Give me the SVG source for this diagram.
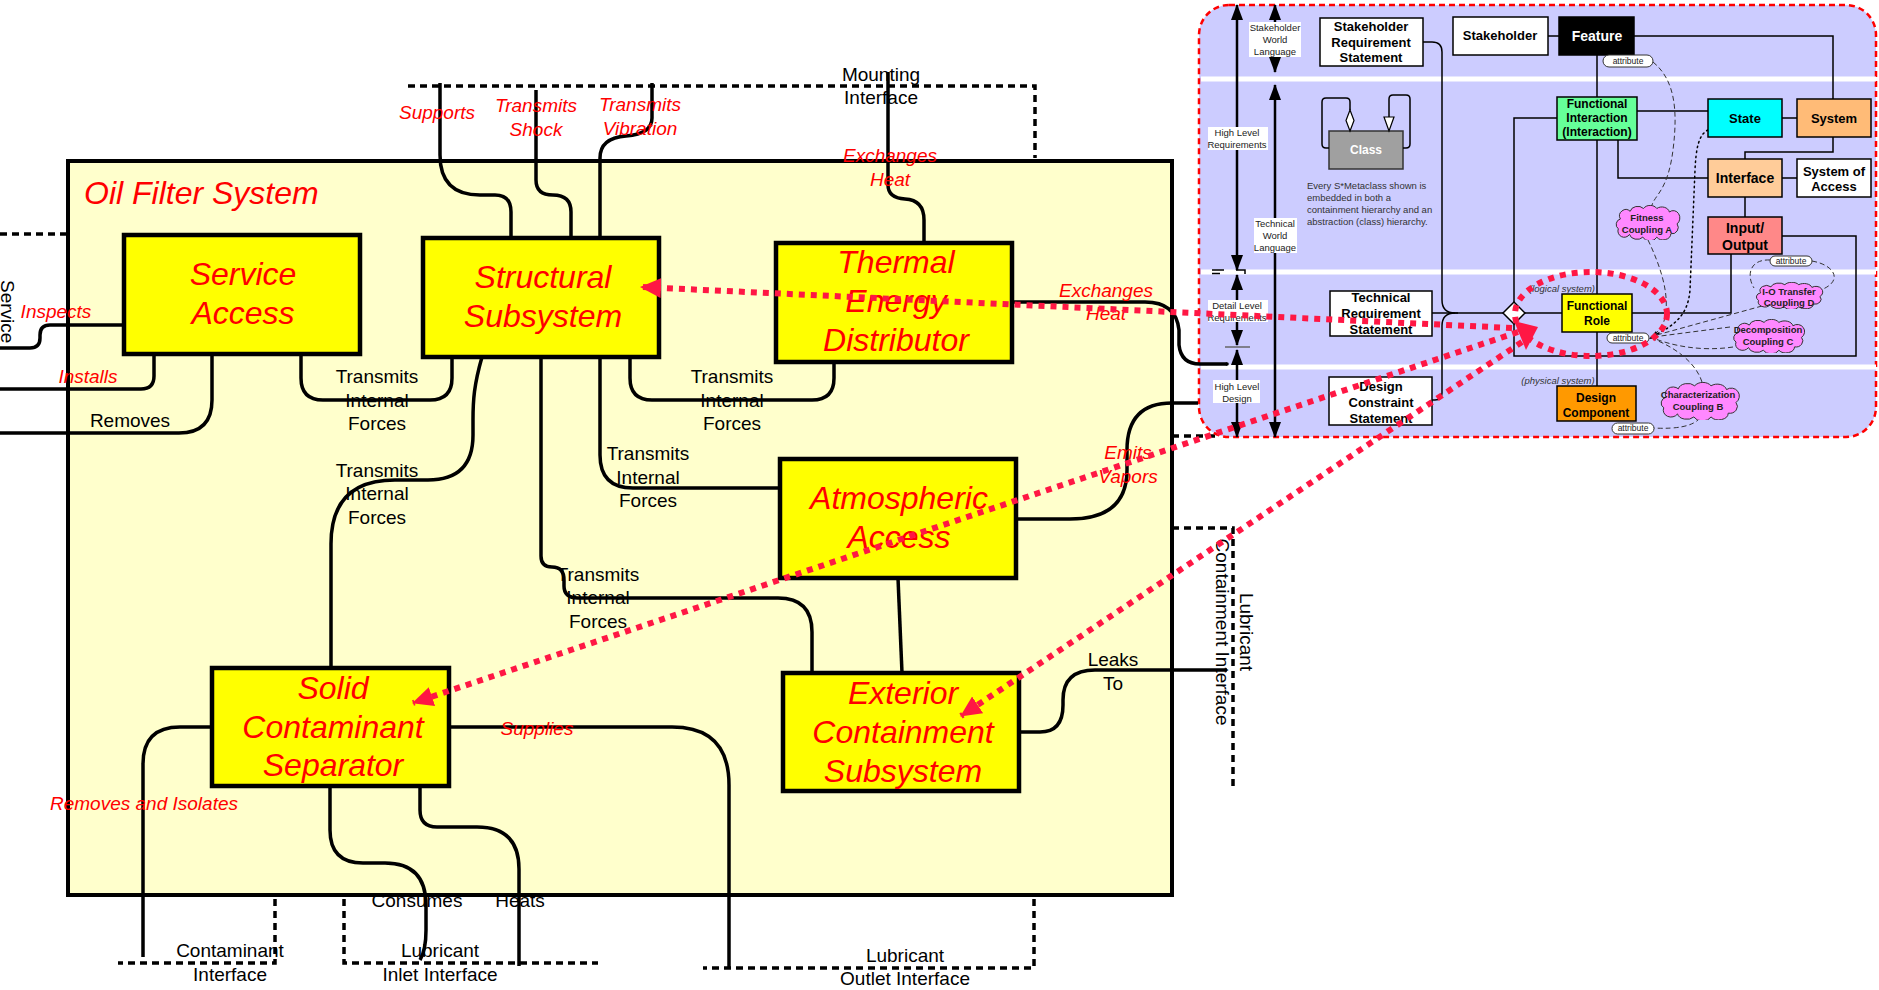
<svg xmlns="http://www.w3.org/2000/svg" width="1879" height="990" viewBox="0 0 1879 990">
<style>
  text { font-family: "Liberation Sans", Arial, sans-serif; }
  .sys { fill: #FFFFCC; stroke: #000; stroke-width: 4; }
  .box { fill: #FFFF00; stroke: #000; stroke-width: 4.5; }
  .blk { font-size: 32px; font-style: italic; fill: #FF0000; text-anchor: middle; }
  .conn { fill: none; stroke: #000; stroke-width: 3.5; }
  .iface { fill: none; stroke: #000; stroke-width: 3.5; stroke-dasharray: 7 5; }
  .rl { font-size: 19px; font-style: italic; fill: #FF0000; text-anchor: middle; }
  .bl { font-size: 19px; fill: #000; text-anchor: middle; }
  .trace { fill: none; stroke: #FF1744; stroke-width: 6; stroke-dasharray: 6 6; }
  .pnl { fill: #CCCCFF; stroke: #FF0000; stroke-width: 2.5; stroke-dasharray: 6 4; }
  .sep { stroke: #FFFFFF; stroke-width: 5; }
  .mc { stroke: #000; stroke-width: 1.5; }
  .mt { font-weight: bold; text-anchor: middle; }
  .ln { fill: none; stroke: #000; stroke-width: 1.5; }
  .va { fill: none; stroke: #000; stroke-width: 2.5; marker-start: url(#bah); marker-end: url(#bah); }
  .vl { font-size: 9.5px; fill: #222; text-anchor: middle; }
  .vbg { fill: #FFFFFF; }
  .att { fill: #FFFFFF; stroke: #333; stroke-width: 1; }
  .at { font-size: 8.5px; fill: #222; text-anchor: middle; }
  .ct { font-size: 9.5px; font-weight: bold; fill: #222; text-anchor: middle; }
  .dsh { fill: none; stroke: #333; stroke-width: 1; stroke-dasharray: 5 3; }
  .note { font-size: 9.5px; fill: #333; }
  .sub { font-size: 9.5px; font-style: italic; fill: #333; text-anchor: middle; }
</style>
<defs>
  <marker id="rah" markerUnits="userSpaceOnUse" markerWidth="22" markerHeight="22" viewBox="0 0 22 22" refX="20" refY="11" orient="auto">
    <path d="M0,1 L21,11 L0,21 z" fill="#FF1744"/>
  </marker>
  <marker id="bah" markerUnits="userSpaceOnUse" markerWidth="16" markerHeight="12" viewBox="0 0 16 12" refX="15" refY="6" orient="auto-start-reverse">
    <path d="M0,0 L16,6 L0,12 z" fill="#000"/>
  </marker>
  <symbol id="cloud" viewBox="0 0 100 50" preserveAspectRatio="none">
    <path d="M12,20 A9,9 0 0 1 26,9 A11,9 0 0 1 45,5 A11,9 0 0 1 64,5 A11,9 0 0 1 82,10 A9,10 0 0 1 93,27 A9,9 0 0 1 84,41 A11,9 0 0 1 64,46 A11,9 0 0 1 44,46 A11,9 0 0 1 25,42 A9,9 0 0 1 9,34 A8,8 0 0 1 12,20 Z" fill="#FF88FF" stroke="#333" stroke-width="1" vector-effect="non-scaling-stroke"/>
  </symbol>
</defs>

<!-- ===== Oil filter system context ===== -->
<g id="oil-filter-system">
  <rect class="sys" x="68" y="161" width="1104" height="734"/>
  <text x="84" y="204" font-size="32" font-style="italic" fill="#FF0000">Oil Filter System</text>
</g>

<!-- external interfaces (dotted) -->
<g id="interfaces">
  <path class="iface" d="M 408 86 H 1035 V 158"/>
  <path class="iface" d="M 0 234 H 66"/>
  <path class="iface" d="M 1172 528 H 1233 V 788"/>
  <path class="iface" d="M 1172 436 H 1218"/>
  <path class="iface" d="M 275 899 V 963 H 118"/>
  <path class="iface" d="M 344 899 V 963 H 598"/>
  <path class="iface" d="M 1034 899 V 968 H 703"/>
  <text class="bl" x="881" y="81">Mounting</text>
  <text class="bl" x="881" y="104">Interface</text>
  <text class="bl" transform="translate(1,280) rotate(90)" style="text-anchor:start">Service</text>
  <text class="bl" transform="translate(1240,632) rotate(90)">Lubricant</text>
  <text class="bl" transform="translate(1216,632) rotate(90)">Containment Interface</text>
  <text class="bl" x="230" y="957">Contaminant</text>
  <text class="bl" x="230" y="981">Interface</text>
  <text class="bl" x="440" y="957">Lubricant</text>
  <text class="bl" x="440" y="981">Inlet Interface</text>
  <text class="bl" x="905" y="962">Lubricant</text>
  <text class="bl" x="905" y="985">Outlet Interface</text>
</g>

<!-- ===== S* metamodel panel ===== -->
<g id="metamodel-panel">
  <rect class="pnl" x="1199" y="5" width="677" height="432" rx="30"/>
  <line class="sep" x1="1201" y1="79" x2="1876" y2="79"/>
  <line class="sep" x1="1201" y1="272" x2="1876" y2="272"/>
  <line class="sep" x1="1201" y1="367" x2="1876" y2="367"/>
</g>

<g id="panel-scale">
  <line class="va" x1="1237" y1="5" x2="1237" y2="270"/>
  <line class="va" x1="1275" y1="5" x2="1275" y2="72"/>
  <line class="va" x1="1275" y1="85" x2="1275" y2="437"/>
  <line class="va" x1="1237" y1="275" x2="1237" y2="345"/>
  <line class="va" x1="1237" y1="350" x2="1237" y2="437"/>
  <line x1="1225" y1="347" x2="1250" y2="347" stroke="#666" stroke-width="1.5"/>
  <path d="M1212 270 H1224 M1212 273.5 H1220 M1236 270 H1245 V274" fill="none" stroke="#000" stroke-width="1.5"/>
  <rect class="vbg" x="1249" y="22" width="52" height="35"/>
  <text class="vl" x="1275" y="31">Stakeholder</text>
  <text class="vl" x="1275" y="43">World</text>
  <text class="vl" x="1275" y="55">Language</text>
  <rect class="vbg" x="1208" y="127" width="60" height="23"/>
  <text class="vl" x="1237" y="136">High Level</text>
  <text class="vl" x="1237" y="148">Requirements</text>
  <rect class="vbg" x="1254" y="218" width="43" height="35"/>
  <text class="vl" x="1275" y="227">Technical</text>
  <text class="vl" x="1275" y="239">World</text>
  <text class="vl" x="1275" y="251">Language</text>
  <rect class="vbg" x="1208" y="300" width="60" height="22"/>
  <text class="vl" x="1237" y="309">Detail Level</text>
  <text class="vl" x="1237" y="321">Requirements</text>
  <rect class="vbg" x="1213" y="380" width="47" height="23"/>
  <text class="vl" x="1237" y="390">High Level</text>
  <text class="vl" x="1237" y="402">Design</text>
</g>

<g id="panel-links">
  <path class="ln" d="M 1548 36 H 1559"/>
  <path class="ln" d="M 1634 36 H 1833 V 99"/>
  <path class="ln" d="M 1597 55 V 97"/>
  <path class="ln" d="M 1637 111 H 1708"/>
  <path class="ln" d="M 1782 118 H 1797"/>
  <path class="ln" d="M 1833 137 V 152 H 1745 V 159"/>
  <path class="ln" d="M 1782 178 H 1797"/>
  <path class="ln" d="M 1618 140 V 178 H 1708"/>
  <path class="ln" d="M 1745 197 V 217"/>
  <path class="ln" d="M 1782 236 H 1856 V 356 H 1514 V 324"/>
  <path class="ln" d="M 1731 254 V 313 H 1632"/>
  <path class="ln" d="M 1597 140 V 294"/>
  <path class="ln" d="M 1597 332 V 386"/>
  <path class="ln" d="M 1557 118 H 1514 V 302"/>
  <path class="ln" d="M 1525 313 H 1562"/>
  <path class="ln" d="M 1423 42 H 1432 Q 1442 42 1442 52 V 300 Q 1442 313 1455 313 H 1503"/>
  <path class="ln" d="M 1432 313 H 1458"/>
  <path class="ln" d="M 1432 400 H 1435 Q 1442 400 1442 393 V 326 Q 1442 313 1455 313"/>
  <polygon points="1503,313 1514,302 1525,313 1514,324" fill="#FFF" stroke="#000" stroke-width="1.5"/>
  <!-- coupling attribute traces -->
  <path class="dsh" d="M 1653 62 C 1675 80 1678 110 1673 150 S 1655 195 1652 205"/>
  <path class="dsh" d="M 1648 240 C 1660 265 1668 290 1666 310 S 1658 330 1652 337"/>
  <path class="dsh" d="M 1762 306 L 1653 336"/>
  <path class="dsh" d="M 1730 327 L 1653 337"/>
  <path class="dsh" d="M 1733 347 C 1700 352 1670 345 1653 338"/>
  <path class="dsh" d="M 1702 382 C 1695 360 1670 345 1653 339"/>
  <path class="dsh" d="M 1700 418 Q 1690 430 1653 428"/>
  <path class="dsh" d="M 1770 260 C 1750 259 1746 275 1754 288"/>
  <path class="dsh" d="M 1812 261 C 1835 265 1845 282 1818 291"/>
  <path d="M 1708 130 C 1698 135 1696 150 1695 170 L 1690 290 C 1688 315 1675 325 1655 335" fill="none" stroke="#000" stroke-width="1.5" stroke-dasharray="1.5 3.5" stroke-linecap="round"/>
  <polygon points="1649,339 1656,331 1658,338" fill="#000"/>
</g>

<g id="mc-class">
  <rect x="1329" y="131" width="74" height="38" fill="#A0A0A0" stroke="#333" stroke-width="1.5"/>
  <text x="1366" y="154" font-size="12" font-weight="bold" fill="#FFF" text-anchor="middle">Class</text>
  <path class="ln" d="M 1329 148 H 1326 Q 1322 148 1322 144 V 102 Q 1322 98 1326 98 H 1346 Q 1350 98 1350 102 V 110"/>
  <polygon points="1350,110 1354,120.5 1350,131 1346,120.5" fill="#FFF" stroke="#000" stroke-width="1.2"/>
  <path class="ln" d="M 1403 148 H 1406 Q 1410 148 1410 144 V 99 Q 1410 95 1406 95 H 1393 Q 1389 95 1389 99 V 117"/>
  <polygon points="1384,117 1394,117 1389,131" fill="#FFF" stroke="#000" stroke-width="1.2"/>
  <text class="note" x="1307" y="189">Every S*Metaclass shown is</text>
  <text class="note" x="1307" y="201">embedded in both a</text>
  <text class="note" x="1307" y="213">containment hierarchy and an</text>
  <text class="note" x="1307" y="225">abstraction (class) hierarchy.</text>
</g>

<g id="mc-stakeholder-req" font-size="13" fill="#000">
  <rect class="mc" x="1320" y="18" width="103" height="48" fill="#FFFFFF"/>
  <text class="mt" x="1371" y="31">Stakeholder</text>
  <text class="mt" x="1371" y="47">Requirement</text>
  <text class="mt" x="1371" y="62">Statement</text>
</g>
<g id="mc-stakeholder" font-size="13" fill="#000">
  <rect class="mc" x="1453" y="17" width="95" height="38" fill="#FFFFFF"/>
  <text class="mt" x="1500" y="40">Stakeholder</text>
</g>
<g id="mc-feature" font-size="14" fill="#FFFFFF">
  <rect class="mc" x="1559" y="17" width="75" height="38" fill="#000000"/>
  <text class="mt" x="1597" y="41">Feature</text>
</g>
<g id="mc-functional-interaction" font-size="12" fill="#000">
  <rect class="mc" x="1557" y="97" width="80" height="43" fill="#66FF99"/>
  <text class="mt" x="1597" y="108">Functional</text>
  <text class="mt" x="1597" y="122">Interaction</text>
  <text class="mt" x="1597" y="136">(Interaction)</text>
</g>
<g id="mc-state" font-size="13" fill="#000">
  <rect class="mc" x="1708" y="99" width="74" height="38" fill="#00FFFF"/>
  <text class="mt" x="1745" y="123">State</text>
</g>
<g id="mc-system" font-size="13" fill="#000">
  <rect class="mc" x="1797" y="99" width="74" height="38" fill="#FFBB77"/>
  <text class="mt" x="1834" y="123">System</text>
</g>
<g id="mc-interface" font-size="14" fill="#000">
  <rect class="mc" x="1708" y="159" width="74" height="38" fill="#FFCC99"/>
  <text class="mt" x="1745" y="183">Interface</text>
</g>
<g id="mc-system-of-access" font-size="13" fill="#000">
  <rect class="mc" x="1797" y="159" width="74" height="38" fill="#FFFFFF"/>
  <text class="mt" x="1834" y="176">System of</text>
  <text class="mt" x="1834" y="191">Access</text>
</g>
<g id="mc-input-output" font-size="14" fill="#000">
  <rect class="mc" x="1708" y="217" width="74" height="37" fill="#FF8888"/>
  <text class="mt" x="1745" y="233">Input/</text>
  <text class="mt" x="1745" y="250">Output</text>
</g>
<g id="mc-functional-role" font-size="12" fill="#000">
  <rect class="mc" x="1562" y="294" width="70" height="38" fill="#FFFF00"/>
  <text class="mt" x="1597" y="310">Functional</text>
  <text class="mt" x="1597" y="325">Role</text>
</g>
<g id="mc-design-component" font-size="12" fill="#000">
  <rect class="mc" x="1557" y="386" width="79" height="35" fill="#FF9900"/>
  <text class="mt" x="1596" y="402">Design</text>
  <text class="mt" x="1596" y="417">Component</text>
</g>
<g id="mc-technical-req" font-size="13" fill="#000">
  <rect class="mc" x="1330" y="291" width="102" height="45" fill="#FFFFFF"/>
  <text class="mt" x="1381" y="302">Technical</text>
  <text class="mt" x="1381" y="318">Requirement</text>
  <text class="mt" x="1381" y="334">Statement</text>
</g>
<g id="mc-design-constraint" font-size="13" fill="#000">
  <rect class="mc" x="1329" y="377" width="103" height="48" fill="#FFFFFF"/>
  <text class="mt" x="1381" y="391">Design</text>
  <text class="mt" x="1381" y="407">Constraint</text>
  <text class="mt" x="1381" y="423">Statement</text>
</g>
<g id="mc-attributes">
  <rect class="att" x="1603" y="55" width="50" height="12" rx="6"/>
  <text class="at" x="1628" y="64">attribute</text>
  <rect class="att" x="1607" y="333" width="42" height="10" rx="5"/>
  <text class="at" x="1628" y="341">attribute</text>
  <rect class="att" x="1612" y="423" width="42" height="11" rx="5.5"/>
  <text class="at" x="1633" y="431">attribute</text>
  <rect class="att" x="1770" y="256" width="42" height="10" rx="5"/>
  <text class="at" x="1791" y="264">attribute</text>
</g>
<g id="mc-fitness-coupling">
  <use href="#cloud" x="1612" y="205" width="70" height="35"/>
  <text class="ct" x="1647" y="221">Fitness</text>
  <text class="ct" x="1647" y="233">Coupling A</text>
</g>
<g id="mc-io-transfer-coupling">
  <use href="#cloud" x="1752" y="282" width="73" height="27"/>
  <text class="ct" x="1789" y="295">I-O Transfer</text>
  <text class="ct" x="1789" y="306">Coupling D</text>
</g>
<g id="mc-decomposition-coupling">
  <use href="#cloud" x="1729" y="319" width="78" height="34"/>
  <text class="ct" x="1768" y="333">Decomposition</text>
  <text class="ct" x="1768" y="345">Coupling C</text>
</g>
<g id="mc-characterization-coupling">
  <use href="#cloud" x="1656" y="382" width="86" height="38"/>
  <text class="ct" x="1698" y="398">Characterization</text>
  <text class="ct" x="1698" y="410">Coupling B</text>
</g>
<text class="sub" x="1562" y="292">(logical system)</text>
<text class="sub" x="1558" y="384">(physical system)</text>

<!-- ===== interactions between subsystems ===== -->
<g id="connectors">
  <path class="conn" d="M 440 83 V 155 Q 440 195 480 195 H 495 Q 511 195 511 212 V 238"/>
  <path class="conn" d="M 536 90 V 180 Q 536 195 553 195 Q 571 195 571 212 V 238"/>
  <path class="conn" d="M 652 83 V 118 Q 652 134 626 136 Q 600 138 600 158 V 238"/>
  <path class="conn" d="M 888 72 V 185 Q 888 198 905 199 Q 924 200 924 220 V 243"/>
  <path class="conn" d="M 124 325 H 50 Q 40 325 40 335 V 338 Q 40 348 30 348 H 0"/>
  <path class="conn" d="M 154 354 V 376 Q 154 389 141 389 H 0"/>
  <path class="conn" d="M 212 354 V 400 Q 212 433 179 433 H 0"/>
  <path class="conn" d="M 301 354 V 378 Q 301 400 323 400 H 430 Q 452 400 452 378 V 357"/>
  <path class="conn" d="M 630 357 V 378 Q 630 400 652 400 H 812 Q 834 400 834 378 V 362"/>
  <path class="conn" d="M 600 357 V 455 Q 600 488 633 488 H 780"/>
  <path class="conn" d="M 541 357 V 556 Q 541 567 552 567 Q 564 567 564 580 V 586 Q 564 598 578 598 H 778 Q 812 598 812 632 V 673"/>
  <path class="conn" d="M 482 357 C 474 385 473 400 473 420 V 435 Q 473 480 428 480 H 395 Q 331 480 331 544 V 668"/>
  <path class="conn" d="M 898 578 L 902 673"/>
  <path class="conn" d="M 1012 302 H 1145 Q 1176 302 1179 330 V 345 Q 1181 364 1200 364 H 1227"/>
  <path class="conn" d="M 1016 519 H 1070 Q 1127 519 1127 470 V 450 Q 1127 403 1172 403 H 1198"/>
  <path class="conn" d="M 1019 732 H 1040 Q 1063 732 1063 705 V 700 Q 1063 670 1095 670 H 1227"/>
  <path class="conn" d="M 212 727 H 180 Q 143 727 143 764 V 957"/>
  <path class="conn" d="M 449 727 H 672 Q 729 727 729 785 V 968"/>
  <path class="conn" d="M 330 787 V 830 Q 330 863 363 863 H 385 Q 426 863 426 905 V 930 Q 426 950 420 960"/>
  <path class="conn" d="M 420 787 V 810 Q 420 827 437 827 H 477 Q 519 827 519 869 V 966"/>
  <circle cx="1227" cy="364" r="1.8" fill="#000"/>
</g>

<!-- connector labels -->
<g id="connector-labels">
  <text class="rl" x="437" y="119">Supports</text>
  <text class="rl" x="536" y="112">Transmits</text>
  <text class="rl" x="536" y="136">Shock</text>
  <text class="rl" x="640" y="111">Transmits</text>
  <text class="rl" x="640" y="135">Vibration</text>
  <text class="rl" x="890" y="162">Exchanges</text>
  <text class="rl" x="890" y="186">Heat</text>
  <text class="rl" x="1106" y="297">Exchanges</text>
  <text class="rl" x="1106" y="320">Heat</text>
  <text class="rl" x="1128" y="459">Emits</text>
  <text class="rl" x="1128" y="483">Vapors</text>
  <text class="rl" x="56" y="318">Inspects</text>
  <text class="rl" x="88" y="383">Installs</text>
  <text class="rl" x="144" y="810">Removes and Isolates</text>
  <text class="rl" x="537" y="735">Supplies</text>
  <text class="bl" x="130" y="427">Removes</text>
  <text class="bl" x="377" y="383">Transmits</text>
  <text class="bl" x="377" y="407">Internal</text>
  <text class="bl" x="377" y="430">Forces</text>
  <text class="bl" x="732" y="383">Transmits</text>
  <text class="bl" x="732" y="407">Internal</text>
  <text class="bl" x="732" y="430">Forces</text>
  <text class="bl" x="648" y="460">Transmits</text>
  <text class="bl" x="648" y="484">Internal</text>
  <text class="bl" x="648" y="507">Forces</text>
  <text class="bl" x="598" y="581">Transmits</text>
  <text class="bl" x="598" y="604">Internal</text>
  <text class="bl" x="598" y="628">Forces</text>
  <text class="bl" x="377" y="477">Transmits</text>
  <text class="bl" x="377" y="500">Internal</text>
  <text class="bl" x="377" y="524">Forces</text>
  <text class="bl" x="1113" y="666">Leaks</text>
  <text class="bl" x="1113" y="690">To</text>
  <text class="bl" x="417" y="907">Consumes</text>
  <text class="bl" x="520" y="907">Heats</text>
</g>

<!-- ===== subsystems ===== -->
<g id="service-access">
  <rect class="box" x="124" y="235" width="236" height="119"/>
  <text class="blk" x="243" y="285">Service</text>
  <text class="blk" x="243" y="324">Access</text>
</g>
<g id="structural-subsystem">
  <rect class="box" x="423" y="238" width="236" height="119"/>
  <text class="blk" x="543" y="288">Structural</text>
  <text class="blk" x="543" y="327">Subsystem</text>
</g>
<g id="thermal-energy-distributor">
  <rect class="box" x="776" y="243" width="236" height="119"/>
  <text class="blk" x="896" y="273">Thermal</text>
  <text class="blk" x="896" y="312">Energy</text>
  <text class="blk" x="896" y="351">Distributor</text>
</g>
<g id="atmospheric-access">
  <rect class="box" x="780" y="459" width="236" height="119"/>
  <text class="blk" x="899" y="509">Atmospheric</text>
  <text class="blk" x="899" y="548">Access</text>
</g>
<g id="solid-contaminant-separator">
  <rect class="box" x="212" y="668" width="237" height="118"/>
  <text class="blk" x="333" y="699">Solid</text>
  <text class="blk" x="333" y="738">Contaminant</text>
  <text class="blk" x="333" y="776">Separator</text>
</g>
<g id="exterior-containment-subsystem">
  <rect class="box" x="783" y="673" width="236" height="118"/>
  <text class="blk" x="903" y="704">Exterior</text>
  <text class="blk" x="903" y="743">Containment</text>
  <text class="blk" x="903" y="782">Subsystem</text>
</g>

<!-- functional role traces -->
<g id="role-traces">
  <ellipse class="trace" cx="1591" cy="314" rx="76" ry="42"/>
  <path class="trace" d="M 1512 328 L 641 287" marker-end="url(#rah)"/>
  <path class="trace" d="M 1518 332 L 413 703" marker-end="url(#rah)"/>
  <path class="trace" d="M 1522 342 L 961 716" marker-end="url(#rah)"/>
  <polygon points="1514,321 1538,327 1526,350" fill="#FF1744"/>
</g>
</svg>
